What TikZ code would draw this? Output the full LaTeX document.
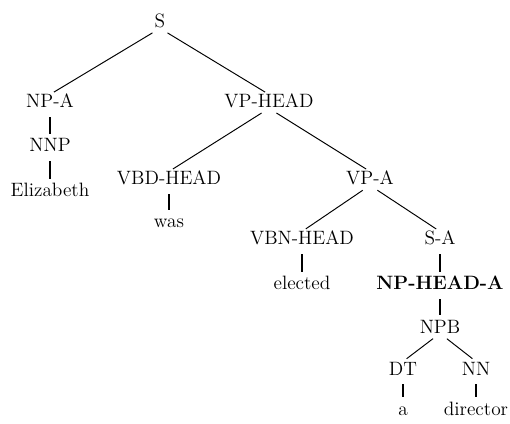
\documentclass[tikz,border=0pt]{standalone}
\usepackage{tikz}

\begin{document}
\begin{tikzpicture}[
    every node/.style={font=\fontsize{11}{13}\selectfont, anchor=base,
        inner sep=0pt, text height=7.5pt, text depth=0pt},
    branch/.style={line width=0.55pt, shorten <=5pt, shorten >=2.6pt},
    unary/.style={line width=1.1pt, shorten <=5pt, shorten >=2.6pt}]
    \useasboundingbox (0,0) rectangle (10.2,8.46);
    % labels
    \node (s)        at (3.20, 7.90) {S};
    \node (npa)      at (1.00, 6.30) {NP-A};
    \node (vphead)   at (5.38, 6.30) {VP-HEAD};
    \node (nnp)      at (1.00, 5.42) {NNP};
    \node (eliz)     at (1.00, 4.52) {Elizabeth};
    \node (vbd)      at (3.38, 4.76) {VBD-HEAD};
    \node (was)      at (3.38, 3.90) {was};
    \node (vpa)      at (7.40, 4.76) {VP-A};
    \node (vbn)      at (6.04, 3.56) {VBN-HEAD};
    \node (sa)       at (8.80, 3.56) {S-A};
    \node (elected)  at (6.04, 2.66) {elected};
    \node (nphead)   at (8.80, 2.66) {\bfseries NP-HEAD-A};
    \node (npb)      at (8.80, 1.80) {NPB};
    \node (dt)       at (8.06, 0.96) {DT};
    \node (nn)       at (9.52, 0.96) {NN};
    \node (a)        at (8.06, 0.16) {a};
    \node (director) at (9.52, 0.16) {director};
    % branches
    \draw [branch] (s.south) -- (npa.north);
    \draw [branch] (s.south) -- (vphead.north);
    \draw [branch] (vphead.south) -- (vbd.north);
    \draw [branch] (vphead.south) -- (vpa.north);
    \draw [branch] (vpa.south) -- (vbn.north);
    \draw [branch] (vpa.south) -- (sa.north);
    \draw [branch] (npb.south) -- (dt.north);
    \draw [branch] (npb.south) -- (nn.north);
    % single children
    \draw [unary] (npa.south) -- (nnp.north);
    \draw [unary] (nnp.south) -- (eliz.north);
    \draw [unary] (vbd.south) -- (was.north);
    \draw [unary] (vbn.south) -- (elected.north);
    \draw [unary] (sa.south) -- (nphead.north);
    \draw [unary] (nphead.south) -- (npb.north);
    \draw [unary] (dt.south) -- (a.north);
    \draw [unary] (nn.south) -- (director.north);
\end{tikzpicture}
\end{document}
